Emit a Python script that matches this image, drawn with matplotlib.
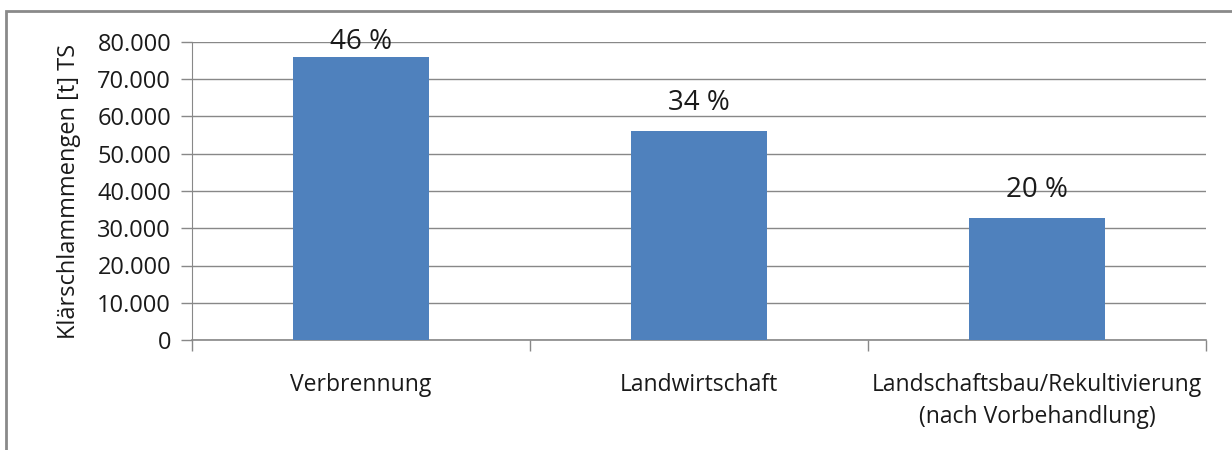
import matplotlib.pyplot as plt
import matplotlib.patches as mpatches
import numpy as np

plt.rcParams['font.family'] = ['Open Sans', 'DejaVu Sans']

categories = ["Verbrennung", "Landwirtschaft",
              "Landschaftsbau/Rekultivierung\n(nach Vorbehandlung)"]
values = [76000, 56000, 32700]
shares = ["46 %", "34 %", "20 %"]
yticks = [0, 10000, 20000, 30000, 40000, 50000, 60000, 70000, 80000]
ytick_labels = ["0", "10.000", "20.000", "30.000", "40.000",
                "50.000", "60.000", "70.000", "80.000"]

W, H = 1232, 450
fig = plt.figure(figsize=(W / 100, H / 100), dpi=100)
ax = fig.add_axes([192 / W, 1 - 340 / H, (1206 - 192) / W, (340 - 42) / H])

grid_col = "#888888"
bar_col = "#4F81BD"
text_col = "#1a1a1a"

x = np.arange(len(categories))
ax.bar(x, values, width=0.4, color=bar_col, zorder=3)

ymax = yticks[-1]
ax.set_ylim(0, ymax)
ax.set_xlim(-0.5, len(categories) - 0.5)

# value labels above bars, clamped to the plot top like Excel does
for xi, v, s in zip(x, values, shares):
    ax.text(xi, min(v + 7700, ymax), s, ha="center", va="center",
            fontsize=20, color=text_col, zorder=4)

ax.set_yticks(yticks)
ax.set_yticklabels(ytick_labels, fontsize=17, color=text_col)
ax.yaxis.grid(True, color=grid_col, lw=1.0, zorder=0)
ax.tick_params(axis="y", length=8, width=1, color=grid_col, direction="out", pad=7)

ax.set_xticks(x)
ax.set_xticklabels(categories, fontsize=16.5, color=text_col, linespacing=1.4)
ax.tick_params(axis="x", which="major", length=0, pad=24)
ax.set_xticks(np.arange(len(categories) + 1) - 0.5, minor=True)
ax.tick_params(axis="x", which="minor", length=8, width=1, color=grid_col,
               direction="out")

for side in ["top", "right"]:
    ax.spines[side].set_visible(False)
ax.spines["left"].set_color(grid_col)
ax.spines["bottom"].set_color(grid_col)
ax.spines["bottom"].set_linewidth(1.2)

ax.set_ylabel("Klärschlammmengen [t] TS", fontsize=17, color=text_col,
              labelpad=12)

# outer chart frame (runs past the right and bottom edge)
frame = mpatches.Rectangle((6 / W, -0.2), 1.2, 1.2 - 11 / H,
                           transform=fig.transFigure, fill=False,
                           edgecolor="#8a8a8a", lw=2, clip_on=False)
fig.patches.append(frame)

fig.savefig("out.png", dpi=100)
